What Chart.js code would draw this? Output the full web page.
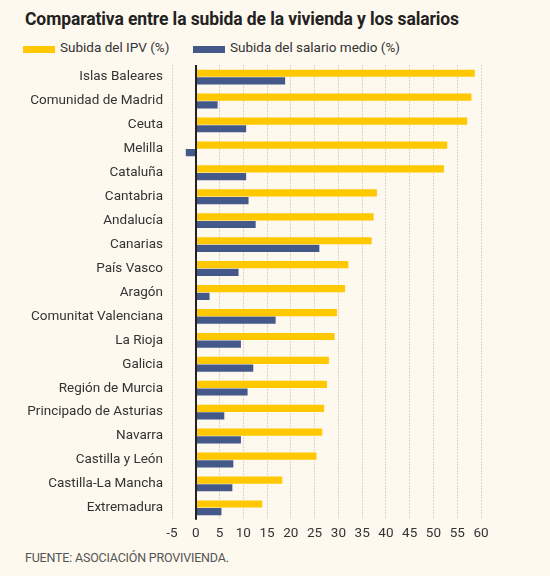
<!DOCTYPE html>
<html>
<head>
<meta charset="utf-8">
<script src="https://cdn.jsdelivr.net/npm/chart.js@4"></script>
<style>
  html, body { margin: 0; padding: 0; background: #fdf9ee; }
  body { width: 550px; height: 576px; position: relative; overflow: hidden; font-family: Roboto, sans-serif; color: #222; }
  #title { position: absolute; left: 25px; top: 9px; font-size: 17.5px; font-weight: 700; letter-spacing: -0.1px; }
  #legend { position: absolute; left: 23px; top: 39px; font-size: 13.5px; color: #333; }
  .item { position: absolute; top: 0; white-space: nowrap; }
  .sw { position: absolute; top: 7px; width: 32px; height: 7px; }
  #foot { position: absolute; left: 25px; top: 550px; font-size: 12.5px; color: #555; letter-spacing: -0.2px; }
  #wrap { position: absolute; left: 0; top: 48px; width: 550px; height: 500px; }
</style>
</head>
<body>
<div id="title">Comparativa entre la subida de la vivienda y los salarios</div>
<div id="legend">
  <div class="item" style="left:0"><span class="sw" style="left:0;background:#ffc800"></span><span style="margin-left:37px">Subida del IPV (%)</span></div>
  <div class="item" style="left:170px"><span class="sw" style="left:0;background:#44598a"></span><span style="margin-left:37px">Subida del salario medio (%)</span></div>
</div>
<div id="wrap"><canvas id="c"></canvas></div>
<div id="foot">FUENTE: ASOCIACIÓN PROVIVIENDA.</div>
<script>
const regions = ["Islas Baleares", "Comunidad de Madrid", "Ceuta", "Melilla", "Cataluña", "Cantabria",
  "Andalucía", "Canarias", "País Vasco", "Aragón", "Comunitat Valenciana", "La Rioja", "Galicia",
  "Región de Murcia", "Principado de Asturias", "Navarra", "Castilla y León", "Castilla-La Mancha", "Extremadura"];
const ipv = [58.7, 58.0, 57.1, 52.9, 52.2, 38.1, 37.4, 37.0, 32.1, 31.4, 29.7, 29.2, 28.0, 27.6, 27.0, 26.6, 25.4, 18.2, 14.0];
const salario = [18.8, 4.6, 10.6, -2.1, 10.6, 11.1, 12.6, 26.0, 9.0, 2.9, 16.8, 9.5, 12.1, 10.9, 6.0, 9.5, 7.9, 7.7, 5.4];
const xTicks = [-5, 0, 5, 10, 15, 20, 25, 30, 35, 40, 45, 50, 55, 60];

const zeroLine = {
  id: "zeroLine",
  afterDraw(chart) {
    const { ctx, chartArea, scales } = chart;
    const x = Math.round(scales.x.getPixelForValue(0));
    ctx.save();
    ctx.strokeStyle = "#222";
    ctx.lineWidth = 2;
    ctx.beginPath();
    ctx.moveTo(x, chartArea.top);
    ctx.lineTo(x, chartArea.bottom);
    ctx.stroke();
    ctx.restore();
  },
};

new Chart(document.getElementById("c"), {
  type: "bar",
  data: {
    labels: regions,
    datasets: [
      { label: "Subida del IPV (%)", data: ipv, backgroundColor: "#ffc800", categoryPercentage: 0.64, barPercentage: 0.94 },
      { label: "Subida del salario medio (%)", data: salario, backgroundColor: "#44598a", categoryPercentage: 0.64, barPercentage: 0.94 },
    ],
  },
  options: {
    indexAxis: "y",
    responsive: true,
    maintainAspectRatio: false,
    animation: false,
    layout: { padding: { left: 0, right: 69, top: 0, bottom: 0 } },
    plugins: { legend: { display: false }, tooltip: { enabled: false } },
    scales: {
      x: {
        type: "linear", min: -5, max: 60, z: 1,
        afterBuildTicks: (ax) => { ax.ticks = xTicks.map((v) => ({ value: v })); },
        grid: { color: "rgba(90,80,60,0.22)", lineWidth: 1, drawTicks: false },
        border: { display: true, color: "rgba(0,0,0,0)", dash: [2, 1] },
        ticks: { color: "#333", font: { family: "Roboto", size: 13.5 }, padding: 6, maxRotation: 0 },
      },
      y: {
        grid: { display: false, drawTicks: false },
        border: { display: false },
        ticks: { color: "#333", font: { family: "Roboto", size: 13.5 }, padding: 9, autoSkip: false },
        afterFit: (ax) => { ax.width = 172; },
      },
    },
  },
  plugins: [zeroLine],
});
</script>
</body>
</html>
